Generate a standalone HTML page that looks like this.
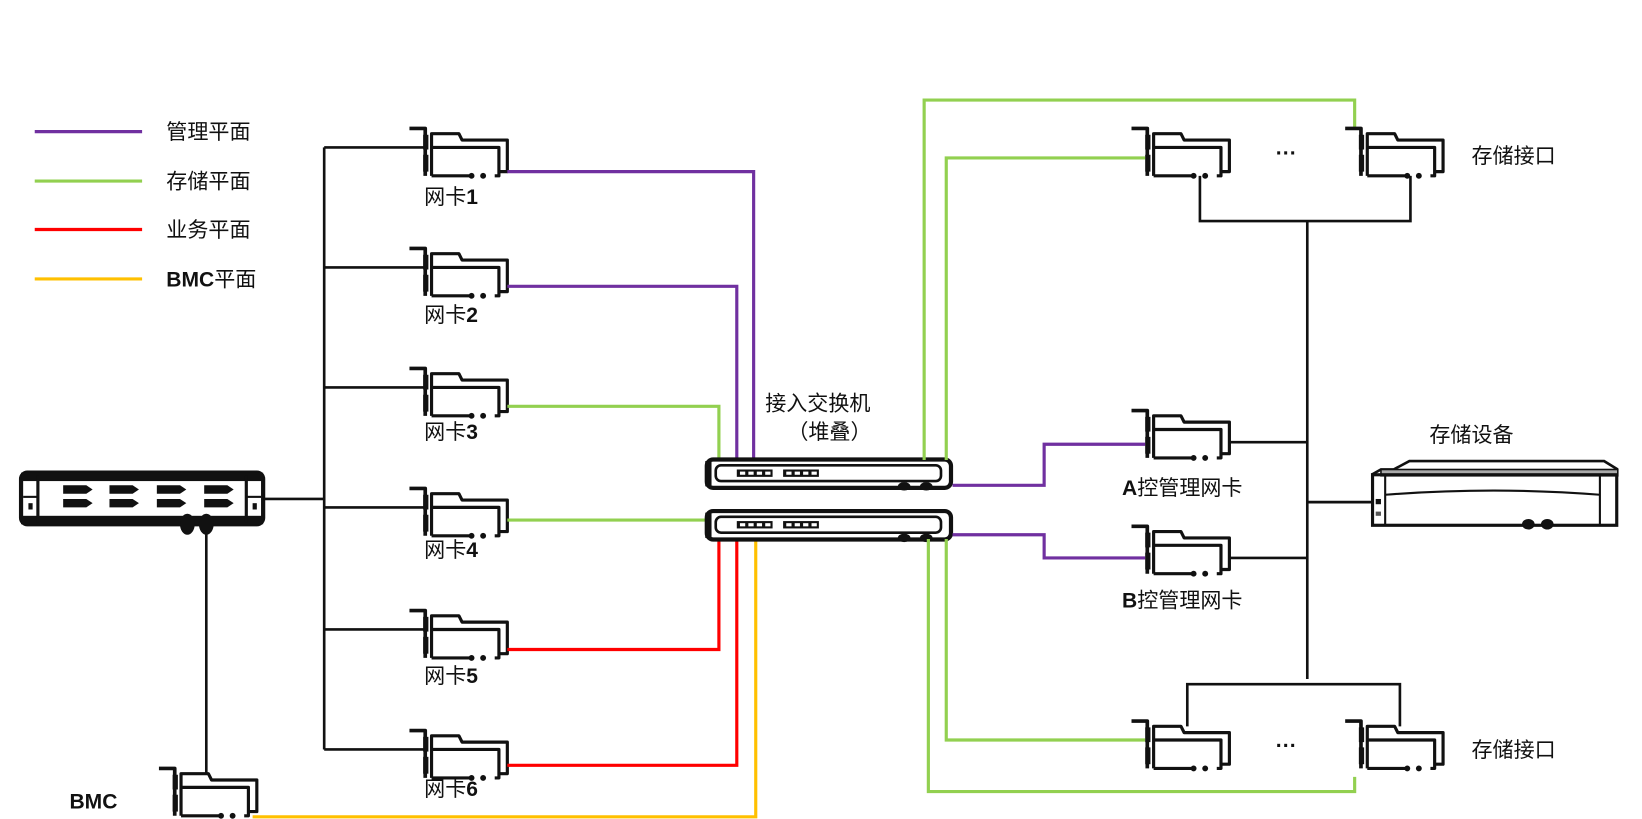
<!DOCTYPE html>
<html><head><meta charset="utf-8"><style>
html,body{margin:0;padding:0;background:#fff;}
svg{display:block;}
text{font-family:"Liberation Sans","Noto Sans CJK SC",sans-serif;font-size:20px;fill:#111;}
</style></head><body>
<svg width="1642" height="819" viewBox="0 0 1560 778" xmlns="http://www.w3.org/2000/svg">
<defs>
<g id="nic" fill="none" stroke="#111" stroke-width="3" stroke-linejoin="round">
  <path d="M-5,-18 H10 V27" stroke-width="3.5"/>
  <rect x="8" y="-12" width="5" height="14" fill="#111" stroke="none"/>
  <rect x="8" y="7" width="5" height="16" fill="#111" stroke="none"/>
  <path d="M16,27 V-13 H42 L45,-7 H88 V23 H80"/>
  <path d="M16,0 H80 V27 H76"/>
  <path d="M16,27 H52"/>
  <circle cx="54" cy="27" r="2.8" fill="#111" stroke="none"/>
  <circle cx="65" cy="27" r="2.8" fill="#111" stroke="none"/>
</g>
<g id="sw">
  <rect x="1.5" y="1.5" width="232" height="27" rx="6" fill="none" stroke="#111" stroke-width="4"/>
  <rect x="0" y="3" width="6" height="24" fill="#111"/>
  <rect x="10" y="7" width="214" height="15" rx="5" fill="none" stroke="#111" stroke-width="2.5"/>
  <rect x="30" y="11" width="34" height="7" fill="#111"/>
  <rect x="74" y="11" width="34" height="7" fill="#111"/>
  <g fill="#fff"><rect x="33" y="13" width="5" height="3"/><rect x="41" y="13" width="5" height="3"/><rect x="49" y="13" width="5" height="3"/><rect x="57" y="13" width="5" height="3"/>
  <rect x="77" y="13" width="5" height="3"/><rect x="85" y="13" width="5" height="3"/><rect x="93" y="13" width="5" height="3"/><rect x="101" y="13" width="5" height="3"/></g>
  <ellipse cx="189" cy="27" rx="6" ry="4" fill="#111"/>
  <ellipse cx="210" cy="27" rx="6" ry="4" fill="#111"/>
</g>
</defs>

<!-- legend -->
<g stroke-width="3">
<line x1="33" y1="125" x2="135" y2="125" stroke="#7030a0"/>
<line x1="33" y1="172" x2="135" y2="172" stroke="#92d050"/>
<line x1="33" y1="218" x2="135" y2="218" stroke="#ff0000"/>
<line x1="33" y1="265" x2="135" y2="265" stroke="#ffc000"/>
</g>
<text x="158" y="132">管理平面</text>
<text x="158" y="179">存储平面</text>
<text x="158" y="225">业务平面</text>
<text x="158" y="272"><tspan font-weight="bold">BMC</tspan>平面</text>

<!-- server -->
<rect x="20" y="449" width="230" height="49" rx="6" fill="none" stroke="#111" stroke-width="4"/>
<rect x="20" y="449" width="230" height="8" fill="#111"/>
<rect x="20" y="490" width="230" height="8" fill="#111"/>
<line x1="36" y1="452" x2="36" y2="496" stroke="#111" stroke-width="3"/>
<line x1="234" y1="452" x2="234" y2="496" stroke="#111" stroke-width="3"/>
<line x1="22" y1="472" x2="36" y2="472" stroke="#111" stroke-width="2"/>
<line x1="234" y1="472" x2="248" y2="472" stroke="#111" stroke-width="2"/>
<rect x="27" y="478" width="4" height="6" fill="#111"/><rect x="240" y="478" width="4" height="6" fill="#111"/>
<g fill="#111">
<path d="M60,461 H82 L88,465 L82,469 H60Z"/><path d="M60,474 H82 L88,478 L82,482 H60Z"/>
<path d="M104,461 H126 L132,465 L126,469 H104Z"/><path d="M104,474 H126 L132,478 L126,482 H104Z"/>
<path d="M149,461 H171 L177,465 L171,469 H149Z"/><path d="M149,474 H171 L177,478 L171,482 H149Z"/>
<path d="M194,461 H216 L222,465 L216,469 H194Z"/><path d="M194,474 H216 L222,478 L216,482 H194Z"/>
</g>
<ellipse cx="178" cy="498" rx="7" ry="10" fill="#111"/>
<ellipse cx="196" cy="498" rx="7" ry="10" fill="#111"/>

<!-- black bus lines -->
<g stroke="#111" stroke-width="2.5" fill="none">
<path d="M250,474 H308"/>
<path d="M308,140 V712"/>
<path d="M308,140 H403 M308,254 H403 M308,368 H403 M308,482 H403 M308,598 H403 M308,712 H403"/>
<path d="M196,505 V736"/>
</g>

<!-- NICs left -->
<use href="#nic" x="394" y="140"/>
<use href="#nic" x="394" y="254"/>
<use href="#nic" x="394" y="368"/>
<use href="#nic" x="394" y="482"/>
<use href="#nic" x="394" y="598"/>
<use href="#nic" x="394" y="712"/>
<use href="#nic" x="156" y="748"/>
<text x="403" y="194">网卡<tspan font-weight="bold">1</tspan></text>
<text x="403" y="306">网卡<tspan font-weight="bold">2</tspan></text>
<text x="403" y="417">网卡<tspan font-weight="bold">3</tspan></text>
<text x="403" y="529">网卡<tspan font-weight="bold">4</tspan></text>
<text x="403" y="649">网卡<tspan font-weight="bold">5</tspan></text>
<text x="403" y="756">网卡<tspan font-weight="bold">6</tspan></text>
<text x="66" y="768" font-weight="bold">BMC</text>

<!-- colored lines left -->
<g fill="none" stroke-width="3">
<path d="M482,163 H716 V437" stroke="#7030a0"/>
<path d="M482,272 H700 V437" stroke="#7030a0"/>
<path d="M482,386 H683 V437" stroke="#92d050"/>
<path d="M482,494 H670" stroke="#92d050"/>
<path d="M482,617 H683 V512" stroke="#ff0000"/>
<path d="M482,727 H700 V512" stroke="#ff0000"/>
<path d="M240,776 H718 V512" stroke="#ffc000"/>
</g>

<!-- switches -->
<text x="727" y="390">接入交换机</text>
<text x="748" y="417">（堆叠）</text>
<use href="#sw" x="670" y="435"/>
<use href="#sw" x="670" y="484"/>

<!-- right colored lines -->
<g fill="none" stroke-width="3">
<path d="M878,437 V95 H1287 V122" stroke="#92d050"/>
<path d="M899,437 V150 H1088" stroke="#92d050"/>
<path d="M905,461 H992 V422 H1088" stroke="#7030a0"/>
<path d="M905,508 H992 V530 H1088" stroke="#7030a0"/>
<path d="M882,512 V752 H1287 V738" stroke="#92d050"/>
<path d="M899,512 V703 H1088" stroke="#92d050"/>
</g>

<!-- storage NICs -->
<use href="#nic" x="1080" y="140"/>
<use href="#nic" x="1283" y="140"/>
<use href="#nic" x="1080" y="408"/>
<use href="#nic" x="1080" y="518"/>
<use href="#nic" x="1080" y="703"/>
<use href="#nic" x="1283" y="703"/>
<text x="1212" y="152" font-size="22" font-weight="bold">···</text>
<text x="1212" y="715" font-size="22" font-weight="bold">···</text>
<text x="1398" y="155">存储接口</text>
<text x="1398" y="719">存储接口</text>
<text x="1066" y="470"><tspan font-weight="bold">A</tspan>控管理网卡</text>
<text x="1066" y="577"><tspan font-weight="bold">B</tspan>控管理网卡</text>

<g stroke="#111" stroke-width="2.5" fill="none">
<path d="M1140,167 V210 H1340 V167"/>
<path d="M1242,210 V645"/>
<path d="M1168,420 H1242"/>
<path d="M1168,530 H1242"/>
<path d="M1242,477 H1305"/>
<path d="M1128,690 V650 H1330 V690"/>
</g>

<!-- storage device -->
<text x="1358" y="420">存储设备</text>
<path d="M1303,451 L1312,446 H1324 L1339,438 H1524 L1537,446" fill="none" stroke="#111" stroke-width="2.5"/>
<rect x="1312" y="446" width="225" height="6" fill="#aaa" stroke="#111" stroke-width="1.5"/>
<rect x="1304" y="451" width="232" height="48" fill="none" stroke="#111" stroke-width="3"/>
<line x1="1316" y1="451" x2="1316" y2="499" stroke="#111" stroke-width="2"/>
<line x1="1520" y1="451" x2="1520" y2="499" stroke="#111" stroke-width="2"/>
<rect x="1307" y="474" width="5" height="5" fill="#111"/>
<rect x="1307" y="486" width="5" height="4" fill="#555"/>
<path d="M1316,470 Q1420,462 1520,470" fill="none" stroke="#111" stroke-width="2"/>
<ellipse cx="1452" cy="498" rx="6" ry="5" fill="#111"/>
<ellipse cx="1470" cy="498" rx="6" ry="5" fill="#111"/>
</svg>
</body></html>
